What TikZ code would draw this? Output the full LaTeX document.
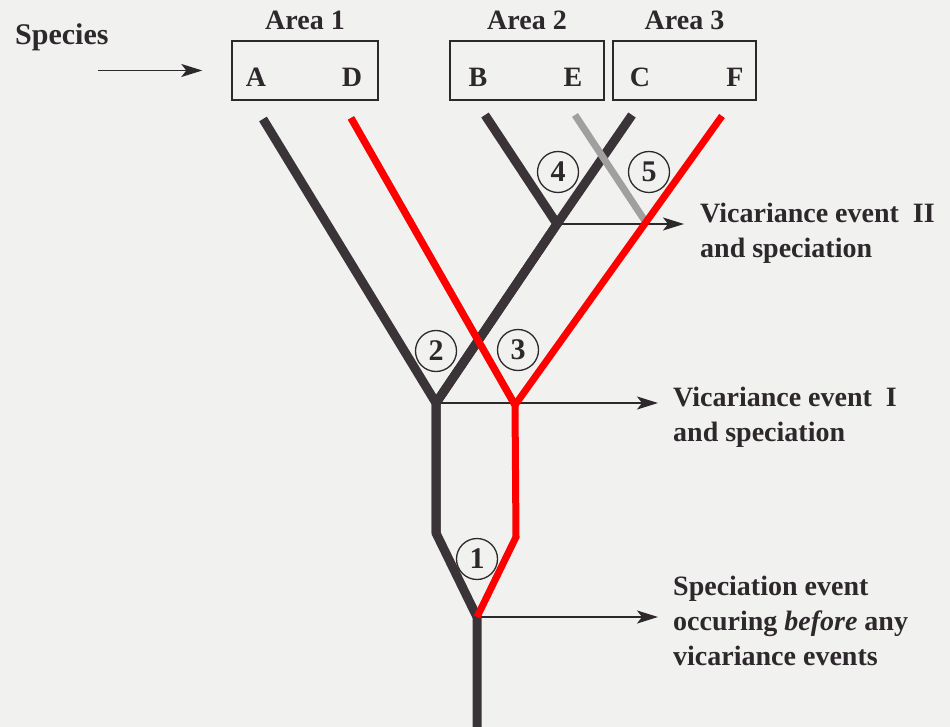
\documentclass[tikz,border=0pt]{standalone}
\usepackage{fontspec}
\setmainfont{Liberation Serif}
\usepackage{xcolor}
\usepackage{tikz}
\usetikzlibrary{positioning, arrows.meta, calc}

\definecolor{paper}{RGB}{241,241,239}
\definecolor{ink}{RGB}{45,40,43}
\definecolor{stemgrey}{RGB}{58,52,56}
\definecolor{fadegrey}{RGB}{160,160,160}

\begin{document}
\begin{tikzpicture}[x=1pt, y=-1pt,
    every node/.style={text=ink, inner sep=0pt, font=\fontsize{28}{35}\selectfont\bfseries},
    areabox/.style={draw=ink, line width=1.4pt, minimum height=59pt},
    event/.style={circle, draw=ink, line width=1.3pt, minimum size=41pt, font=\fontsize{30}{30}\selectfont\bfseries},
    note/.style={align=left, anchor=north west},
    pointer/.style={draw=ink, line width=1.5pt, -{Stealth[length=21pt, width=13pt, inset=5pt]}},
    branch/.style={draw=stemgrey, line width=9pt},
    fadedbranch/.style={draw=fadegrey, line width=7pt},
    redbranch/.style={draw=red, line width=7pt}]

  \fill[paper] (0,0) rectangle (950,727);
  \useasboundingbox (0,0) rectangle (950,727);

  % areas and species
  \node[areabox, minimum width=146pt] (area1) at (305,70.5) {};
  \node[areabox, minimum width=154pt] (area2) at (527,70.5) {};
  \node[areabox, minimum width=143pt] (area3) at (684.5,70.5) {};
  \node[above=10pt of area1] (lab1) {Area 1};
  \node[above=10pt of area2] (lab2) {Area 2};
  \node[above=10pt of area3] (lab3) {Area 3};

  \node[anchor=base] (spA) at (256,87) {A};
  \node[anchor=base] (spD) at (352,87) {D};
  \node[anchor=base] (spB) at (478,87) {B};
  \node[anchor=base] (spE) at (573,87) {E};
  \node[anchor=base] (spC) at (640,87) {C};
  \node[anchor=base] (spF) at (735,87) {F};

  \node[anchor=base west, font=\fontsize{30}{35}\selectfont\bfseries] (species) at (15,45) {Species};
  \coordinate (sptail) at (98,70.5);
  \draw[pointer, shorten >=29pt] (sptail) -- (area1.west);

  % tree points
  \coordinate (tipA) at (263,119);
  \coordinate (tipD) at (351,118);
  \coordinate (tipB) at (485,115);
  \coordinate (tipE) at (575,115);
  \coordinate (tipC) at (632,115);
  \coordinate (tipF) at (722,116);
  \coordinate (j4) at (557,224);
  \coordinate (endE) at (647,224);
  \coordinate (j2) at (436,403);
  \coordinate (j3) at (515,405);
  \coordinate (bend2) at (436,533);
  \coordinate (bend3) at (516,537);
  \coordinate (j1) at (477,617);
  \coordinate (root) at (477,727);

  \coordinate (endII) at (684,224);
  \coordinate (endI) at (658,403);
  \coordinate (endS) at (658,617);

  % event arrows
  \draw[pointer] (j4) -- (endII);
  \draw[pointer] (j2) -- (endI);
  \draw[pointer] (j1) -- (endS);

  % branches
  \draw[branch] (tipA) -- (j2) -- (bend2) -- (j1) -- (root);
  \draw[branch] (bend2) -- (j2) -- (j4) -- (tipC);
  \draw[branch] (tipB) -- (j4) -- (j2);
  \draw[fadedbranch] (tipE) -- (endE);
  \draw[redbranch] (tipD) -- (j3) -- (tipF);
  \draw[redbranch] (j1) -- (bend3) -- (j3) -- (tipD);

  % numbered events
  \node[event] (ev1) at (477,559) {1};
  \node[event] (ev2) at (436,351) {2};
  \node[event] (ev3) at (518,350) {3};
  \node[event] (ev4) at (558,172) {4};
  \node[event] (ev5) at (649,172) {5};

  % notes
  \node[note] (vicII) at ($(endII)+(16,-21)$) {Vicariance event\ \ II\\and speciation};
  \node[note] (vicI) at ($(endI)+(15,-16)$) {Vicariance event\ \ I\\and speciation};
  \node[note] (specnote) at ($(endS)+(15,-41)$) {Speciation event\\occuring \textit{before} any\\vicariance events};
\end{tikzpicture}
\end{document}
